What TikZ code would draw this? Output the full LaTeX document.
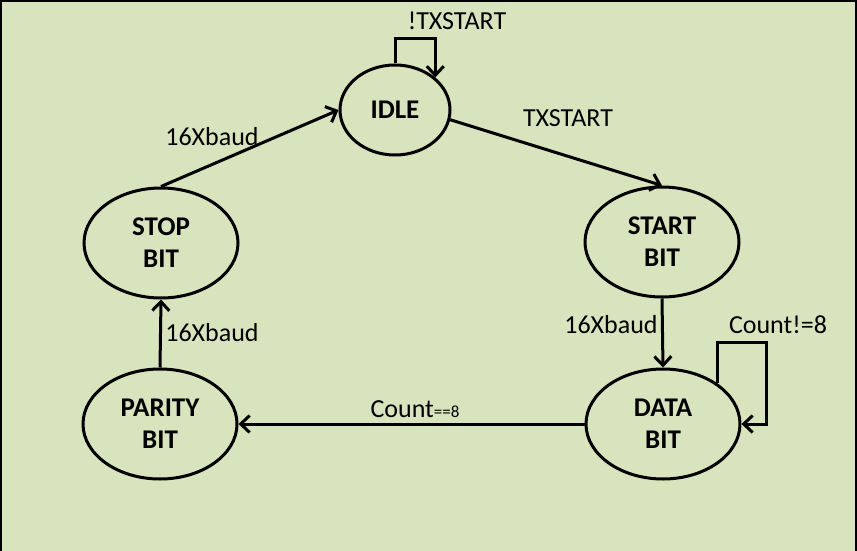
\documentclass[tikz,border=0pt]{standalone}
\usepackage{fontspec}
\setmainfont{Carlito}
\usetikzlibrary{shapes.geometric,arrows.meta}
\definecolor{bg}{HTML}{D7E4BD}
\begin{document}
\begin{tikzpicture}[x=1pt,y=-1pt,
  state/.style={draw,ellipse,line width=3pt,inner sep=0pt,minimum width=154pt,minimum height=110pt,
    font=\fontsize{27}{32}\selectfont\bfseries,align=center},
  edge/.style={line width=3pt,-{Straight Barb[length=9pt,width=17pt,line width=3pt]}},
  lbl/.style={font=\fontsize{26}{30}\selectfont,inner sep=0pt,anchor=base}]
\fill[bg] (0,0) rectangle (857,551);
\useasboundingbox (0,0) rectangle (857,551);
\draw[line width=2.5pt] (1,551) -- (1,1) -- (856,1) -- (856,551);

\node[state,minimum width=110pt,minimum height=90pt] (idle) at (395,110) {IDLE};
\node[state] (start) at (662,242) {START\\BIT};
\node[state] (data) at (663,424) {DATA\\BIT};
\node[state] (parity) at (160,424) {PARITY\\BIT};
\node[state] (stop) at (161,243) {STOP\\BIT};

\draw[edge] (idle.north) -- ++(0,-25) -| (idle.39);
\draw[edge] (idle.-10) -- (start.north);
\draw[edge] (start.south) -- (data.north);
\draw[edge] (data.37) |- (766,342) |- (data.east);
\draw[edge] (data.west) -- (parity.east);
\draw[edge] (parity.north) -- (stop.south);
\draw[edge] (stop.north) -- (idle.west);

\node[lbl] (l1) at (457,30) {!TXSTART};
\node[lbl] (l2) at (568,126) {TXSTART};
\node[lbl] (l3) at (212,145) {16Xbaud};
\node[lbl] (l4) at (611,333) {16Xbaud};
\node[lbl] (l5) at (778,333) {Count!=8};
\node[lbl] (l6) at (212,341) {16Xbaud};
\node[lbl] (l7) at (415,417) {Count{\fontsize{17}{20}\selectfont ==8}};
\end{tikzpicture}
\end{document}
